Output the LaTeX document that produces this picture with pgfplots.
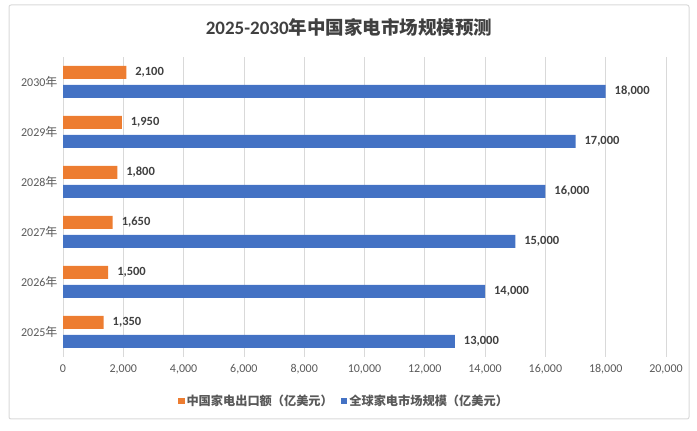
\documentclass[border=0pt]{standalone}
\usepackage{pgfplots}
\pgfplotsset{compat=1.18}
\usepackage{fontspec}
\setmainfont{Carlito}
\newfontfamily\cjk{Noto Sans CJK SC}
\definecolor{cOrange}{HTML}{ED7D31}
\definecolor{cBlue}{HTML}{4472C4}
\definecolor{cGrid}{HTML}{D9D9D9}
\definecolor{cText}{HTML}{595959}
\definecolor{cDark}{HTML}{404040}
\begin{document}
\begin{tikzpicture}
\path (0pt,0pt) rectangle (697pt,431pt);
\draw[cGrid, line width=1pt, rounded corners=2pt] (9pt,12pt) rectangle (689pt,426pt);
\node[font=\bfseries\fontsize{19}{21}\selectfont, text=cDark] at (349pt,404pt) {2025-2030{\cjk\bfseries\fontsize{18.5}{21}\selectfont 年中国家电市场规模预测}};
\begin{axis}[
  at={(63pt,74pt)}, anchor=south west,
  scale only axis, width=603pt, height=300pt,
  xbar, bar width=13pt,
  xmin=0, xmax=20000,
  ymin=-0.5, ymax=5.5,
  xtick={0,2000,...,20000},
  ytick={0,1,2,3,4,5},
  yticklabels={2025{\cjk 年},2026{\cjk 年},2027{\cjk 年},2028{\cjk 年},2029{\cjk 年},2030{\cjk 年}},
  /pgf/number format/assume math mode=true,
  /pgf/number format/1000 sep={,},
  scaled x ticks=false,
  xmajorgrids, major grid style={cGrid, line width=0.8pt},
  axis line style={draw=none},
  major tick length=0pt,
  tick label style={font=\fontsize{12}{14}\selectfont, text=cText},
  xticklabel style={yshift=-4pt},
  yticklabel style={xshift=-2pt},
  nodes near coords,
  every node near coord/.append style={font=\bfseries\fontsize{12.5}{14}\selectfont, text=cDark, xshift=5.5pt,
    /pgf/number format/assume math mode=true, /pgf/number format/1000 sep={,}},
  legend style={at={(0.466,-0.147)}, anchor=center, draw=none, legend columns=2,
    font=\cjk\bfseries\fontsize{12.2}{14}\selectfont, text=cText,
    /tikz/every even column/.append style={column sep=6pt}},
  legend image code/.code={\fill[#1] (1pt,-3.2pt) rectangle (7.5pt,3.2pt);},
]
\addplot[fill=cOrange, draw=none, bar shift=9.5pt] coordinates {(1350,0) (1500,1) (1650,2) (1800,3) (1950,4) (2100,5)};
\addplot[fill=cBlue, draw=none, bar shift=-9.5pt] coordinates {(13000,0) (14000,1) (15000,2) (16000,3) (17000,4) (18000,5)};
\legend{中国家电出口额（亿美元）,全球家电市场规模（亿美元）}
\end{axis}
\end{tikzpicture}
\end{document}
